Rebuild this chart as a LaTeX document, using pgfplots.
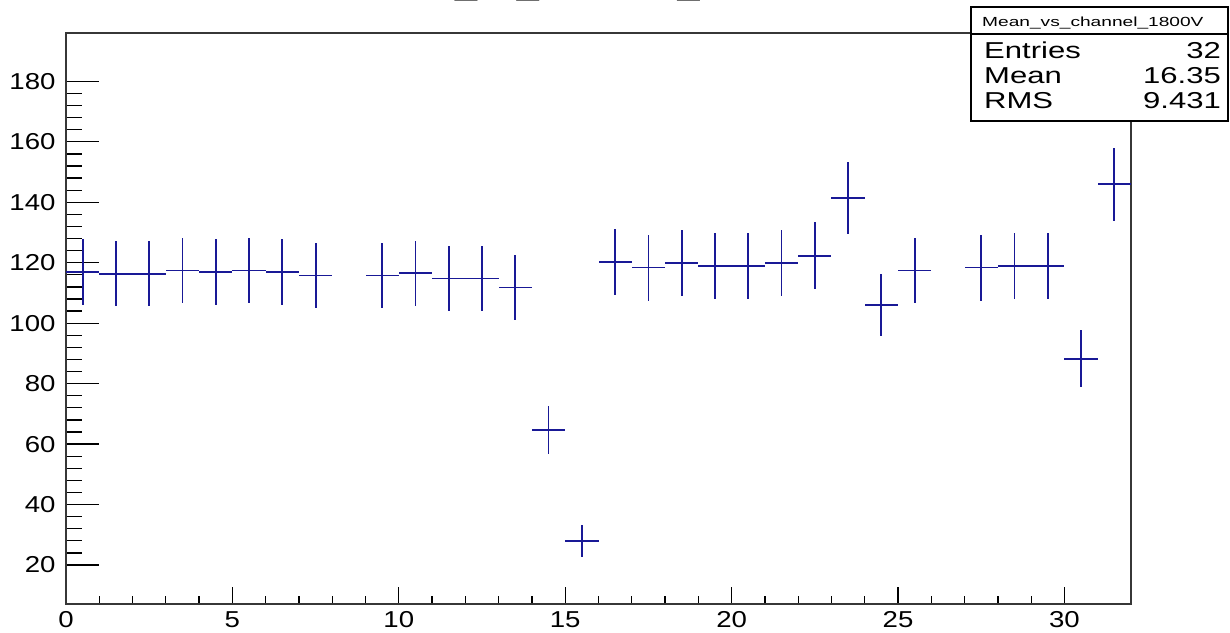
\documentclass[border=0pt]{standalone}
\usepackage{fontspec}
\setmainfont{Liberation Sans}
\usepackage{graphicx}
\usepackage{pgfplots}
\usepackage{pgfplotstable}
\pgfplotsset{compat=1.18}
\definecolor{rootblue}{RGB}{25,25,150}
\definecolor{framegray}{RGB}{55,55,55}
\pgfplotstableread{
x y ex ey
0.5 116.9 0.5 10.8
1.5 116.4 0.5 10.8
2.5 116.4 0.5 10.8
3.5 117.4 0.5 10.8
4.5 116.9 0.5 10.8
5.5 117.4 0.5 10.8
6.5 116.9 0.5 10.8
7.5 115.8 0.5 10.8
9.5 115.8 0.5 10.8
10.5 116.5 0.5 10.8
11.5 114.8 0.5 10.7
12.5 114.8 0.5 10.7
13.5 111.8 0.5 10.6
14.5 64.6 0.5 8.0
15.5 28.0 0.5 5.3
16.5 120.3 0.5 11.0
17.5 118.4 0.5 10.9
18.5 119.9 0.5 10.9
19.5 118.9 0.5 10.9
20.5 118.9 0.5 10.9
21.5 119.9 0.5 10.9
22.5 122.3 0.5 11.1
23.5 141.4 0.5 11.9
24.5 105.9 0.5 10.3
25.5 117.4 0.5 10.8
27.5 118.4 0.5 10.9
28.5 118.9 0.5 10.9
29.5 118.9 0.5 10.9
30.5 88.2 0.5 9.4
31.5 146.0 0.5 12.1
}\datatable
\begin{document}
\begin{tikzpicture}[x=1pt,y=1pt]
\useasboundingbox (0,0) rectangle (1230,632);
\begin{axis}[
  at={(66pt,28pt)}, anchor=south west, scale only axis,
  width=1065pt, height=571pt,
  xmin=0, xmax=32, ymin=7.1, ymax=196,
  xtick={0,5,...,30}, minor x tick num=4,
  ytick={20,40,...,180}, minor y tick num=4,
  tick align=inside, tick pos=left,
  xtick style={/pgfplots/major tick length=17pt, /pgfplots/minor tick length=8pt, line width=1.3pt, black},
  ytick style={/pgfplots/major tick length=33pt, /pgfplots/minor tick length=16pt, line width=1.3pt, black},
  axis line style={line width=1.8pt, framegray},
  tick label style={font=\fontsize{23}{27}\selectfont, black},
  xticklabel={\scalebox{1.2}[1]{\pgfmathprintnumber[assume math mode=true]{\tick}}},
  yticklabel={\scalebox{1.2}[1]{\pgfmathprintnumber[assume math mode=true]{\tick}}},
  xticklabel style={yshift=-4pt},
  yticklabel style={xshift=-7pt},
]
\addplot[draw=none, no markers,
  error bars/.cd, x dir=both, x explicit, y dir=both, y explicit,
  error mark=none, error bar style={draw=rootblue, line width=1.8pt}]
  table[x=x, y=y, x error=ex, y error=ey] {\datatable};
\end{axis}
\node[anchor=base west, inner sep=0pt] at (356,637.6) {\fontsize{33}{33}\selectfont\scalebox{1.2}[1]{Mean\_vs\_channel\_1800V}};
\draw[draw=black, fill=white, line width=1.5pt] (971,511) rectangle (1228,625);
\draw[line width=1.5pt, black] (971,598) -- (1228,598);
\node[anchor=base west, inner sep=0pt] at (982,605.5) {\fontsize{13.2}{13}\selectfont\scalebox{1.45}[1]{Mean\_vs\_channel\_1800V}};
\node[anchor=base west, inner sep=0pt] at (984,573.7) {\fontsize{23}{23}\selectfont\scalebox{1.35}[1]{Entries}};
\node[anchor=base west, inner sep=0pt] at (984,548.7) {\fontsize{23}{23}\selectfont\scalebox{1.35}[1]{Mean}};
\node[anchor=base west, inner sep=0pt] at (984,523.7) {\fontsize{23}{23}\selectfont\scalebox{1.35}[1]{RMS}};
\node[anchor=base east, inner sep=0pt] at (1221,573.7) {\fontsize{23}{23}\selectfont\scalebox{1.35}[1]{32}};
\node[anchor=base east, inner sep=0pt] at (1221,548.7) {\fontsize{23}{23}\selectfont\scalebox{1.35}[1]{16.35}};
\node[anchor=base east, inner sep=0pt] at (1221,523.7) {\fontsize{23}{23}\selectfont\scalebox{1.35}[1]{9.431}};
\end{tikzpicture}
\end{document}
